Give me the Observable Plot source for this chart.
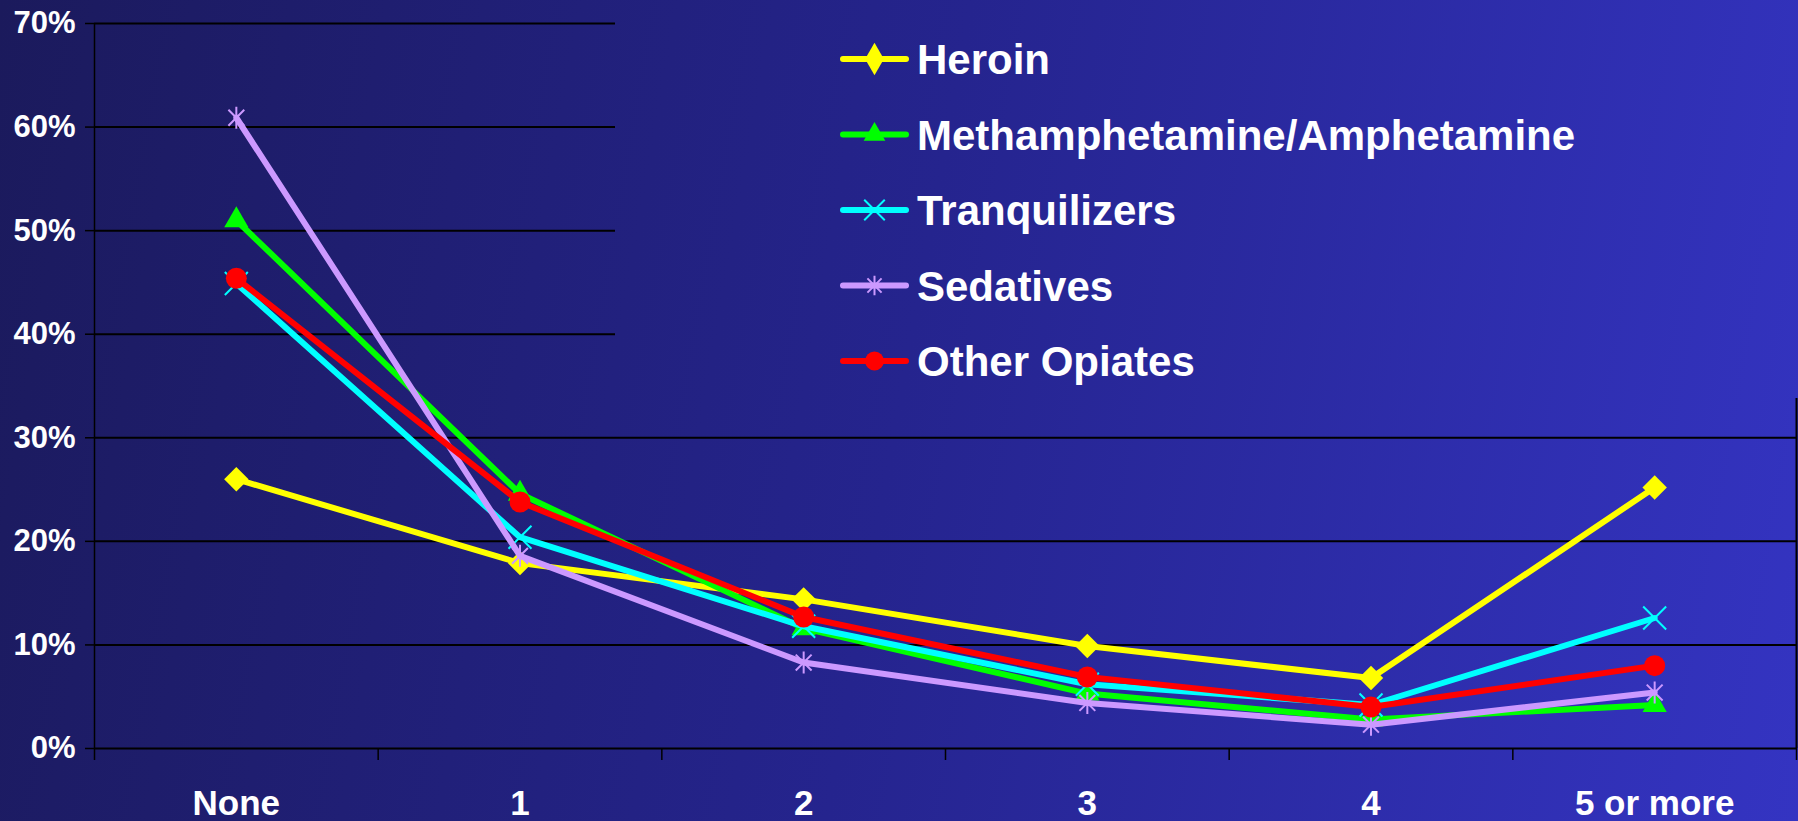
<!DOCTYPE html>
<html>
<head>
<meta charset="utf-8">
<script src="https://cdn.jsdelivr.net/npm/d3@7"></script>
<script src="https://cdn.jsdelivr.net/npm/@observablehq/plot@0.6"></script>
<style>
  html, body { margin: 0; padding: 0; }
  body {
    width: 1798px; height: 821px; overflow: hidden; position: relative;
    background: linear-gradient(100deg, #1b1a5c 0%, #25248e 50%, #3434c2 100%);
    background-attachment: fixed;
    font-family: "Liberation Sans", Arial, sans-serif;
  }
  #chart { position: absolute; left: 0; top: 0; }
  #legend {
    position: absolute; left: 615px; top: 0; width: 1183px; height: 398px;
    background: linear-gradient(100deg, #1b1a5c 0%, #25248e 50%, #3434c2 100%);
    background-attachment: fixed;
  }
</style>
</head>
<body>
<div id="chart"></div>
<div id="legend"></div>
<script>
// ---- data ----
const categories = ["None", "1", "2", "3", "4", "5 or more"];
const seriesNames = ["Heroin", "Methamphetamine/Amphetamine", "Tranquilizers", "Sedatives", "Other Opiates"];
const heroin       = [26.0, 17.9, 14.4, 9.9, 6.8, 25.2];
const meth         = [51.0, 24.6, 11.6, 5.3, 2.8, 4.2];
const tranquilizers= [44.9, 20.4, 11.8, 6.2, 4.2, 12.6];
const sedatives    = [60.9, 18.6, 8.3, 4.4, 2.3, 5.4];
const otherOpiates = [45.4, 23.8, 12.7, 6.9, 4.0, 8.0];
const yTicks = [0, 10, 20, 30, 40, 50, 60, 70];

// ---- styles ----
const colors = ["#ffff00", "#00ff00", "#00ffff", "#cc99ff", "#ff0000"];
const star = {
  draw(ctx, size) {
    const r = Math.sqrt(size / Math.PI);
    const d = r * 0.72;
    ctx.moveTo(0, -r); ctx.lineTo(0, r);
    ctx.moveTo(-d, -d); ctx.lineTo(d, d);
    ctx.moveTo(-d, d); ctx.lineTo(d, -d);
  }
};
const markers = [
  {symbol: "diamond2", r: 11, filled: true},
  {symbol: "triangle", r: 9, filled: true},
  {symbol: "times", r: 10.5, filled: false},
  {symbol: star, r: 11, filled: false},
  {symbol: "circle", r: 10.5, filled: true}
];
const valuesList = [heroin, meth, tranquilizers, sedatives, otherOpiates];

const series = seriesNames.map((name, s) => ({
  name, color: colors[s], marker: markers[s],
  data: categories.map((c, i) => ({cat: c, idx: i, value: valuesList[s][i]}))
}));

const boundaries = d3.range(categories.length + 1).map(i => i - 0.5);
const font = "'Liberation Sans', Arial, sans-serif";

const seriesMarks = series.flatMap(s => [
  Plot.line(s.data, {x: "idx", y: "value", stroke: s.color, strokeWidth: 6, strokeLinejoin: "round"}),
  s.marker.filled
    ? Plot.dot(s.data, {x: "idx", y: "value", symbol: s.marker.symbol, r: s.marker.r, fill: s.color, stroke: "none"})
    : Plot.dot(s.data, {x: "idx", y: "value", symbol: s.marker.symbol, r: s.marker.r, fill: "none", stroke: s.color, strokeWidth: 2})
]);

const chart = Plot.plot({
  width: 1798,
  height: 821,
  marginLeft: 94,
  marginRight: 2,
  marginTop: 23,
  marginBottom: 73,
  style: {background: "transparent", fontFamily: font, overflow: "visible"},
  x: {domain: [-0.5, categories.length - 0.5], axis: null},
  y: {domain: [0, 70], axis: null},
  marks: [
    Plot.ruleY(yTicks, {stroke: "#000", strokeWidth: 2}),
    Plot.ruleX([boundaries[0]], {stroke: "#000", strokeWidth: 1.5}),
    Plot.ruleX([boundaries[boundaries.length - 1]], {stroke: "#000", strokeWidth: 2}),
    Plot.axisY({ticks: yTicks, tickFormat: d => d + "%", tickSize: 9, tickPadding: 10,
      stroke: "#000", strokeWidth: 1.5, fill: "white", fontSize: 31, fontWeight: "bold", label: null}),
    Plot.axisX({ticks: boundaries, tickFormat: () => "", tickSize: 12, stroke: "#000", strokeWidth: 1.5, label: null}),
    Plot.axisX({ticks: categories.map((_, i) => i), tickFormat: i => categories[i], tickSize: 0, tickPadding: 42,
      fill: "white", fontSize: 35, fontWeight: "bold", label: null}),
    ...seriesMarks
  ]
});
document.getElementById("chart").appendChild(chart);

// ---- legend ----
const lsvg = d3.select("#legend").append("svg").attr("width", 1183).attr("height", 398);
series.forEach((s, i) => {
  const cy = 59 + i * 75.5;
  const g = lsvg.append("g");
  g.append("line").attr("x1", 228).attr("x2", 291).attr("y1", cy).attr("y2", cy)
    .attr("stroke", s.color).attr("stroke-width", 6).attr("stroke-linecap", "round");
  const sym = d3.symbol(typeof s.marker.symbol === "string"
      ? {diamond2: d3.symbolDiamond, triangle: d3.symbolTriangle, times: d3.symbolTimes, circle: d3.symbolCircle}[s.marker.symbol]
      : s.marker.symbol, Math.PI * s.marker.r * s.marker.r * 0.8);
  g.append("path").attr("d", sym()).attr("transform", `translate(${259.5},${cy})`)
    .attr("fill", s.marker.filled ? s.color : "none")
    .attr("stroke", s.marker.filled ? "none" : s.color).attr("stroke-width", 2);
  g.append("text").attr("x", 302).attr("y", cy + 15).text(s.name)
    .attr("fill", "white").attr("font-size", 42).attr("font-weight", "bold").attr("font-family", font);
});
</script>
</body>
</html>
